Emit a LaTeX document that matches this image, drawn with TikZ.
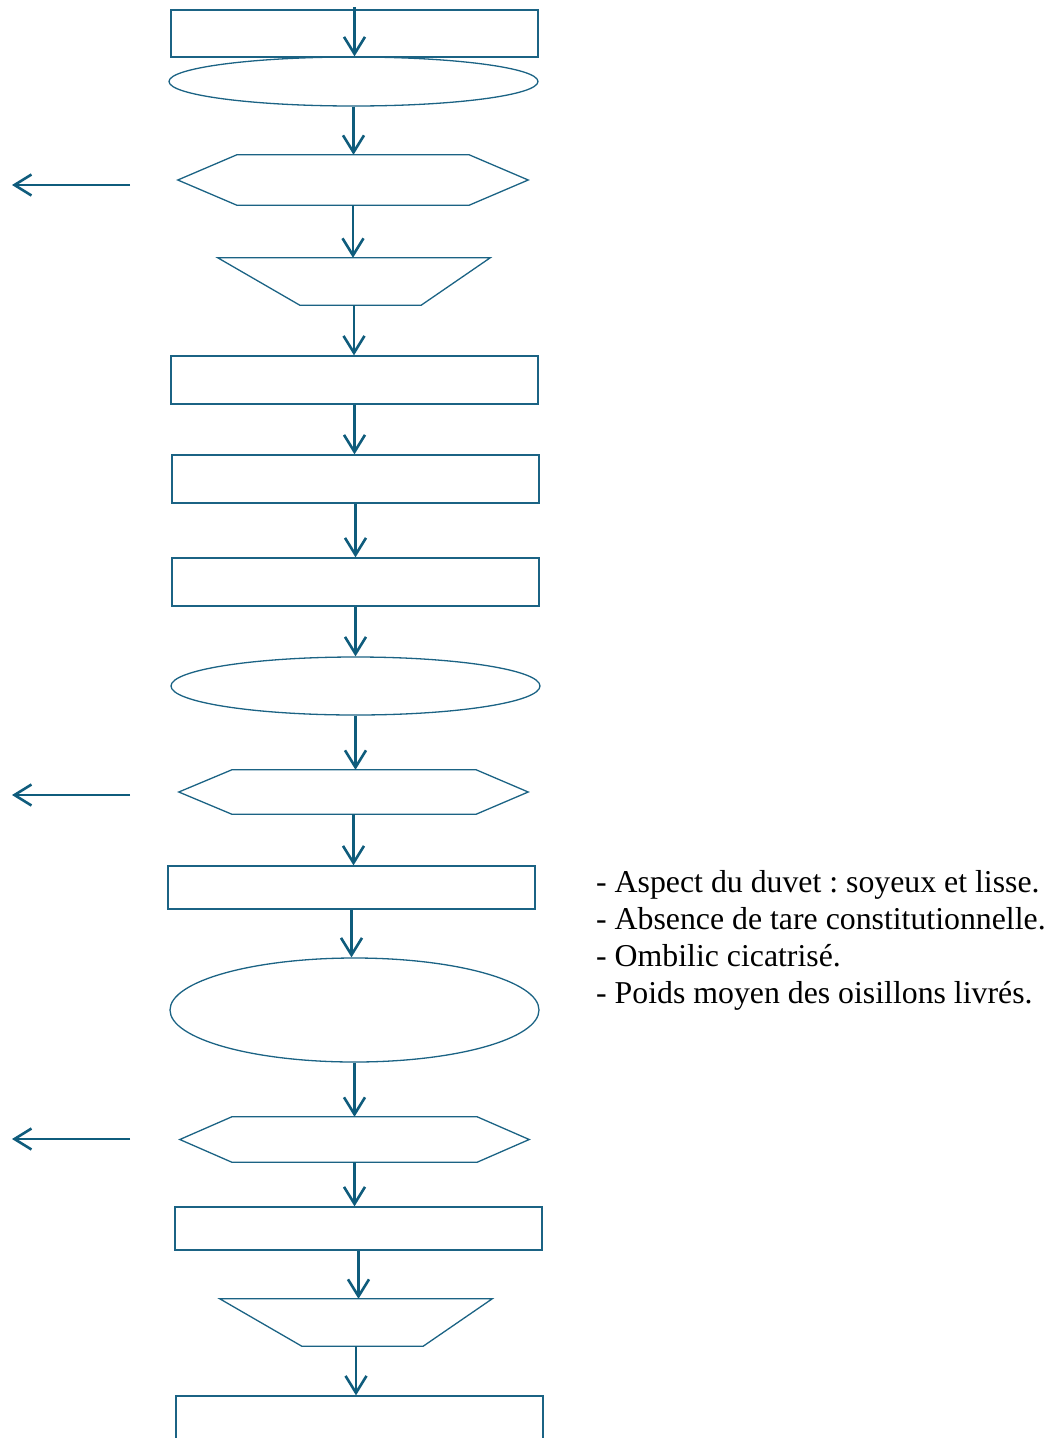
\documentclass[tikz,border=0pt]{standalone}
\usepackage{fontspec}
\setmainfont{Liberation Serif}
\usepackage{tikz}
\usetikzlibrary{arrows.meta, shapes.geometric}
\definecolor{flow_blue}{HTML}{1B6384}
\definecolor{flow_dark}{HTML}{0F5C7C}
\frenchspacing

\tikzset{
  box/.style={draw=flow_blue, line width=1.3pt, rectangle, inner sep=0pt, minimum width=367pt},
  oval/.style={draw=flow_blue, line width=1.3pt, ellipse, inner sep=0pt, minimum width=369pt},
  slot/.style={rectangle, inner sep=0pt},
  outline/.style={draw=flow_blue, line width=1.3pt, line join=miter},
  flow/.style={->, flow_dark, line width=2.6pt},
}

\begin{document}
\begin{tikzpicture}[x=1pt, y=-1pt, >={Straight Barb[length=17pt,width=21pt]}, every node/.style={font=\fontsize{31.8}{37}\selectfont}]

  \useasboundingbox (0,0) rectangle (1056,1438);

  % upper part
  \node[box, minimum height=47pt] (recA) at (354.5,33.5) {};
  \node[oval, minimum height=49pt] (ovA) at (353.5,81.5) {};

  \node[slot, minimum width=350pt, minimum height=50pt] (hexA) at (353,180) {};
  \draw[outline] ([xshift=59pt]hexA.north west) -- ([xshift=-59pt]hexA.north east) -- (hexA.east)
    -- ([xshift=-59pt]hexA.south east) -- ([xshift=59pt]hexA.south west) -- (hexA.west) -- cycle;

  \node[slot, minimum width=272pt, minimum height=47pt] (trapA) at (354,281.5) {};
  \draw[outline] (trapA.north west) -- (trapA.north east) -- ([xshift=-69pt]trapA.south east)
    -- ([xshift=82pt]trapA.south west) -- cycle;

  \node[box, minimum height=48pt] (recB) at (354.5,380) {};
  \node[box, minimum height=48pt] (recC) at (355.5,479) {};
  \node[box, minimum height=48pt] (recD) at (355.5,582) {};
  \node[oval, minimum height=58pt] (ovB) at (355.5,686) {};

  \node[slot, minimum width=349pt, minimum height=44pt] (hexB) at (353.5,792) {};
  \draw[outline] ([xshift=53pt]hexB.north west) -- ([xshift=-52pt]hexB.north east) -- (hexB.east)
    -- ([xshift=-52pt]hexB.south east) -- ([xshift=53pt]hexB.south west) -- (hexB.west) -- cycle;

  \node[box, minimum height=43pt] (recE) at (351.5,887.5) {};
  \node[oval, minimum height=104pt] (ovC) at (354.5,1010) {};

  % lower part
  \node[slot, minimum width=349pt, minimum height=45pt] (hexC) at (354.5,1139.5) {};
  \draw[outline] ([xshift=52pt]hexC.north west) -- ([xshift=-52pt]hexC.north east) -- (hexC.east)
    -- ([xshift=-52pt]hexC.south east) -- ([xshift=52pt]hexC.south west) -- (hexC.west) -- cycle;

  \node[box, minimum height=43pt] (recF) at (358.5,1228.5) {};

  \node[slot, minimum width=272pt, minimum height=47pt] (trapB) at (356,1322.5) {};
  \draw[outline] (trapB.north west) -- (trapB.north east) -- ([xshift=-69pt]trapB.south east)
    -- ([xshift=82pt]trapB.south west) -- cycle;

  \node[box, minimum height=90pt] (recG) at (359.5,1441) {};

  % connectors
  \draw[flow] ([yshift=2pt]recA.north) -- (recA.north |- ovA.north);
  \draw[flow] (ovA.south) -- (ovA.south |- hexA.north);
  \draw[flow] (hexA.south) -- (hexA.south |- trapA.north);
  \draw[flow] (trapA.south) -- (trapA.south |- recB.north);
  \draw[flow] (recB.south) -- (recB.south |- recC.north);
  \draw[flow] (recC.south) -- (recC.south |- recD.north);
  \draw[flow] (recD.south) -- (recD.south |- ovB.north);
  \draw[flow] (ovB.south) -- (ovB.south |- hexB.north);
  \draw[flow] (hexB.south) -- (hexB.south |- recE.north);
  \draw[flow] (recE.south) -- (recE.south |- ovC.north);
  \draw[flow] (ovC.south) -- (ovC.south |- hexC.north);
  \draw[flow] (hexC.south) -- (hexC.south |- recF.north);
  \draw[flow] (recF.south) -- (recF.south |- trapB.north);
  \draw[flow] (trapB.south) -- (trapB.south |- recG.north);

  % rejects on the left
  \coordinate (outA) at (130,185);
  \coordinate (endA) at (12,185);
  \coordinate (outB) at (130,795);
  \coordinate (endB) at (12,795);
  \coordinate (outC) at (130,1139);
  \coordinate (endC) at (12,1139);
  \draw[flow] (outA) -- (endA);
  \draw[flow] (outB) -- (endB);
  \draw[flow] (outC) -- (endC);

  \node[anchor=north west, align=left, inner sep=0pt] (notes) at (596,870)
    {- Aspect du duvet : soyeux et lisse.\\
     - Absence de tare constitutionnelle.\\
     - Ombilic cicatrisé.\\
     - Poids moyen des oisillons livrés.};

\end{tikzpicture}
\end{document}
